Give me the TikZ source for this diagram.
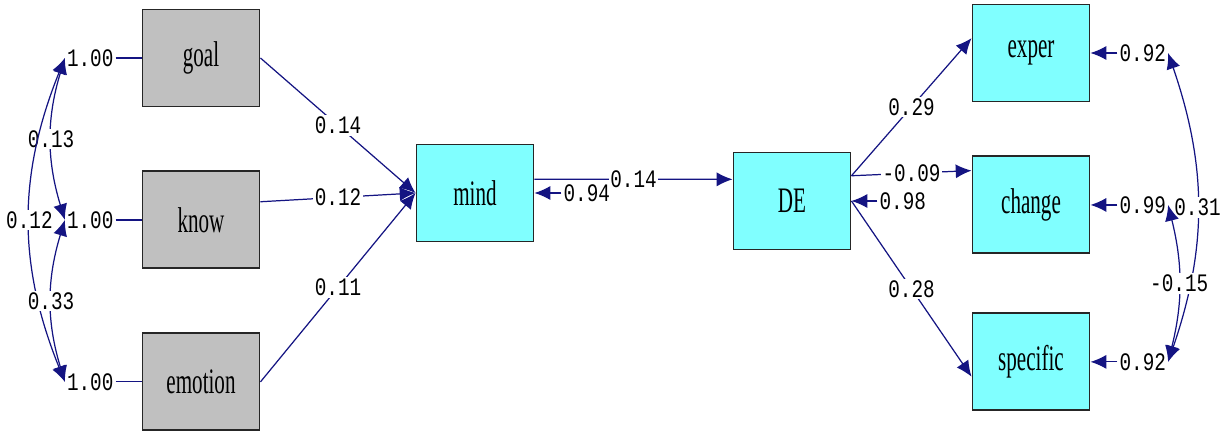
\documentclass[tikz,border=0pt]{standalone}
\usepackage{fontspec}
\setmainfont{Liberation Serif}
\setmonofont{Liberation Mono}
\usepackage{graphicx}
\usetikzlibrary{arrows.meta,positioning}

\definecolor{pathblue}{RGB}{20,20,130}
\definecolor{boxgray}{RGB}{192,192,192}
\definecolor{boxcyan}{RGB}{128,255,255}
\newcommand{\tall}[1]{\scalebox{1}[1.7]{#1}}
\newcommand{\num}[1]{\scalebox{1}[1.3]{\ttfamily #1}}

\begin{document}
\begin{tikzpicture}[
    box/.style={rectangle, draw=black!85, line width=1.1pt, minimum width=2.34cm, minimum height=1.94cm, font=\fontsize{12}{12}\selectfont},
    obs/.style={box, fill=boxgray},
    lat/.style={box, fill=boxcyan},
    err/.style={inner sep=1pt, font=\fontsize{11}{11}\selectfont},
    coef/.style={fill=white, inner sep=1pt, font=\fontsize{11}{11}\selectfont},
    plain/.style={draw=pathblue, line width=0.7pt},
    link/.style={plain, ->, >={Latex[length=9pt,width=8pt]}},
    cov/.style={plain, <->, >={Latex[length=9pt,width=8pt]}}
]
    \useasboundingbox (0,0) rectangle (24.46,-8.6);

    % Observed causes
    \node[obs] (goal) at (4.02,-1.16) {\tall{goal}};
    \node[obs] (know) [below=1.26cm of goal] {\tall{know}};
    \node[obs] (emotion) [below=1.26cm of know] {\tall{emotion}};

    % Latent variables
    \node[lat] (mind) at (9.5,-3.86) {\tall{mind}};
    \node[lat] (DE) at (15.84,-4.02) {\tall{DE}};

    % Indicators
    \node[lat] (exper) at (20.62,-1.06) {\tall{exper}};
    \node[lat] (change) [below=1.06cm of exper] {\tall{change}};
    \node[lat] (specific) [below=1.16cm of change] {\tall{specific}};

    % Variances / errors
    \node[err] (egoal) [left=0.52cm of goal] {\num{1.00}};
    \node[err] (eknow) [left=0.52cm of know] {\num{1.00}};
    \node[err] (eemotion) [left=0.52cm of emotion] {\num{1.00}};
    \node[err] (emind) [right=0.54cm of mind] {\num{0.94}};
    \node[err] (eDE) [right=0.52cm of DE] {\num{0.98}};
    \node[err] (eexper) [right=0.54cm of exper] {\num{0.92}};
    \node[err] (echange) [right=0.54cm of change] {\num{0.99}};
    \node[err] (especific) [right=0.54cm of specific] {\num{0.92}};

    \draw[plain] (egoal) -- (goal);
    \draw[plain] (eknow) -- (know);
    \draw[plain] (eemotion) -- (emotion);
    \draw[link] (emind) -- (mind);
    \draw[link] (eDE) -- (DE);
    \draw[link] (eexper) -- (exper);
    \draw[link] (echange) -- (change);
    \draw[link] (especific) -- (specific);

    % Paths
    \draw[link] (goal.east) -- node[coef] {\num{0.14}} (mind.west);
    \draw[link] (know.17) -- node[coef] {\num{0.12}} (mind.west);
    \draw[link] (emotion.east) -- node[coef] {\num{0.11}} (mind.west);
    \draw[link] (mind.13) -- node[coef] {\num{0.14}} (DE.160);
    \draw[link] (DE.23) -- node[coef] {\num{0.29}} (exper.166);
    \draw[link] (DE.23) -- node[coef] {\num{-0.09}} (change.150);
    \draw[link] (DE.east) -- node[coef] {\num{0.28}} (specific.194);

    % Covariances
    \draw[cov] (egoal.west) to[bend right=17] node[coef] {\num{0.13}} (eknow.west);
    \draw[cov] (egoal.west) to[bend right=22] node[coef] {\num{0.12}} (eemotion.west);
    \draw[cov] (eknow.west) to[bend right=17] node[coef] {\num{0.33}} (eemotion.west);
    \draw[cov] (eexper.east) to[bend left=19] node[coef] {\num{0.31}} (especific.east);
    \draw[cov] (echange.east) to[bend left=14] node[coef] {\num{-0.15}} (especific.east);

\end{tikzpicture}
\end{document}
